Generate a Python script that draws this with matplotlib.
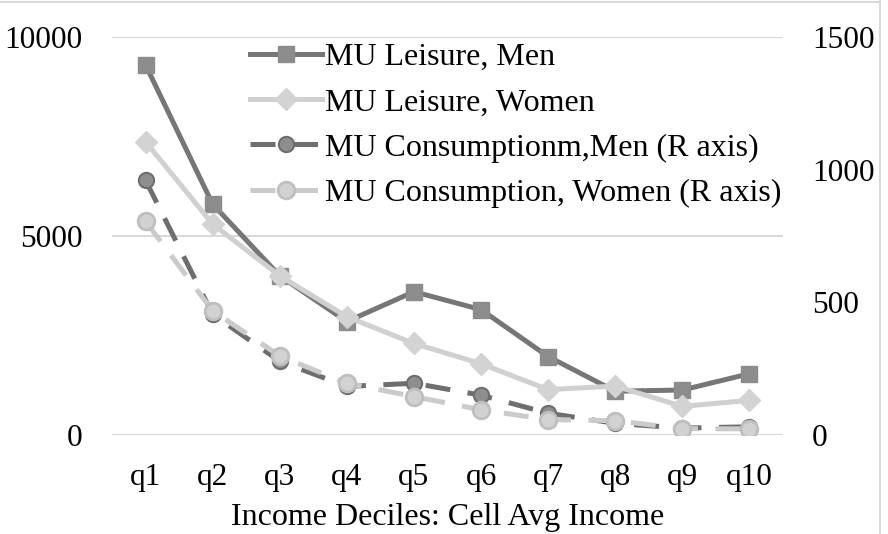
import matplotlib
matplotlib.use('Agg')
import matplotlib.pyplot as plt
import numpy as np

plt.rcParams['font.family'] = ['Liberation Serif', 'DejaVu Serif']

# Data
deciles = ['q1', 'q2', 'q3', 'q4', 'q5', 'q6', 'q7', 'q8', 'q9', 'q10']
leisure_men = [9300, 5800, 4000, 2850, 3600, 3150, 1970, 1100, 1130, 1540]
leisure_women = [7370, 5300, 4000, 2970, 2300, 1790, 1140, 1230, 720, 870]
cons_men = [960, 455, 278, 183, 195, 150, 82, 44, 26, 31]
cons_women = [805, 468, 298, 195, 145, 95, 58, 54, 24, 23]

x = np.arange(len(deciles))

fig = plt.figure(figsize=(8.88, 5.34), dpi=100)
ax = fig.add_axes([0.1261, 0.1854, 0.7557, 0.7453])
ax2 = ax.twinx()

lw = 3.6
ax.plot(x, leisure_men, color='#767676', lw=lw, marker='s', ms=11,
        mfc='#8c8c8c', mec='#8c8c8c', label='MU Leisure, Men', zorder=3)
ax.plot(x, leisure_women, color='#d0d0d0', lw=lw, marker='D', ms=11,
        mfc='#d3d3d3', mec='#d3d3d3', label='MU Leisure, Women', zorder=3)
ax2.plot(x, cons_men, color='#6e6e6e', lw=lw, dashes=(5, 3.5), marker='o', ms=11,
         mfc='#8e8e8e', mec='#6e6e6e', mew=1.5, label='MU Consumptionm,Men (R axis)')
ax2.plot(x, cons_women, color='#cbcbcb', lw=lw, dashes=(5, 3.5), marker='o', ms=12,
         mfc='#d2d2d2', mec='#bfbfbf', mew=2, label='MU Consumption, Women (R axis)')

ax.set_xlim(-0.5, 9.5)
ax.set_ylim(0, 10000)
ax2.set_ylim(0, 1500)
ax.set_yticks([0, 5000, 10000])
ax2.set_yticks([0, 500, 1000, 1500])
ax.set_xticks(x)
ax.set_xticklabels(deciles)
ax.yaxis.grid(True, color='#d9d9d9', lw=1.5)
ax.set_axisbelow(True)

for a in (ax, ax2):
    for s in a.spines.values():
        s.set_visible(False)
    a.tick_params(length=0, labelsize=22.5, colors='black')
ax.tick_params(axis='y', pad=21)
ax.tick_params(axis='x', pad=20)
ax2.tick_params(axis='y', pad=21)
for t in ax.get_yticklabels() + ax2.get_yticklabels():
    t.set_va('center_baseline')
ax.set_xlabel('Income Deciles: Cell Avg Income', fontsize=23, labelpad=8)

h1, lab1 = ax.get_legend_handles_labels()
h2, lab2 = ax2.get_legend_handles_labels()
leg = ax2.legend(h1 + h2, lab1 + lab2, loc='upper left', bbox_to_anchor=(0.177, 1.034),
                 frameon=False, fontsize=23, handlelength=2.25, handletextpad=0.1,
                 labelspacing=0.5, borderaxespad=0.2)

# light chart-area border (top and right edges only visible in the reference)
fig.add_artist(plt.Line2D([0, 880 / 888], [1 - 1.5 / 534, 1 - 1.5 / 534],
                          transform=fig.transFigure, color='#d9d9d9', lw=1.5))
fig.add_artist(plt.Line2D([880 / 888, 880 / 888], [0, 1],
                          transform=fig.transFigure, color='#d9d9d9', lw=1.5))

plt.savefig('out.png', dpi=100)
